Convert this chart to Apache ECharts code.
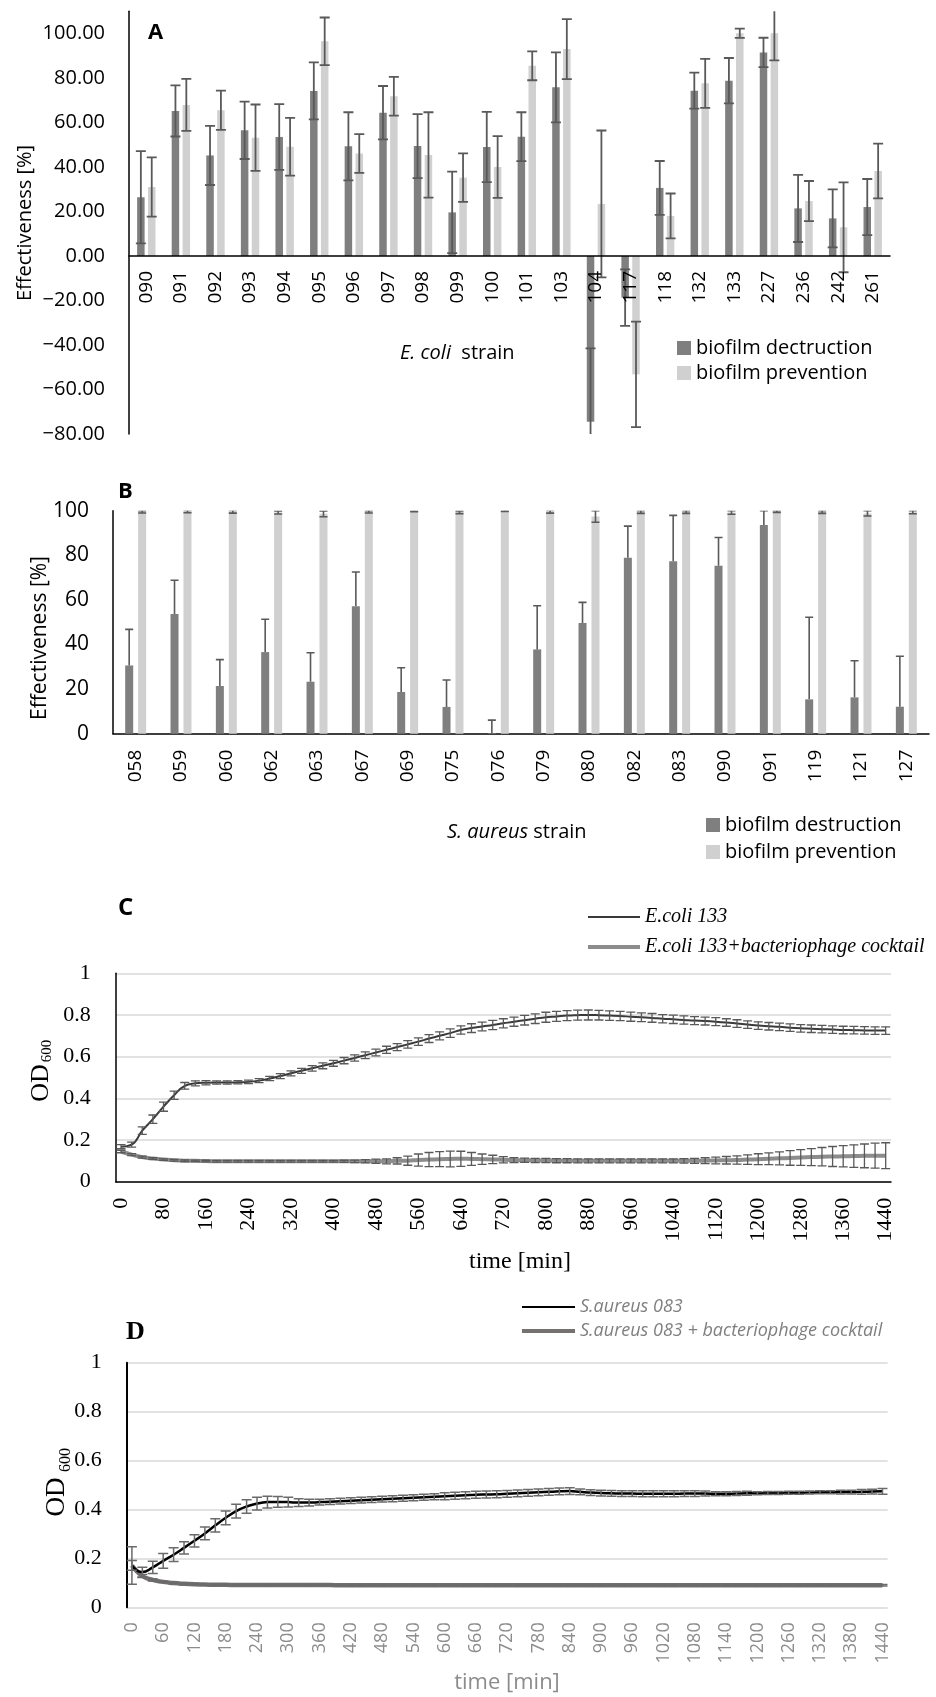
<!DOCTYPE html>
<html><head><meta charset="utf-8">
<script src="https://cdn.jsdelivr.net/npm/echarts@6/dist/echarts.min.js"></script>
<style>html,body{margin:0;padding:0;background:#fff}#c{width:936px;height:1697px}</style>
</head><body><div id="c"></div>
<script>
// ---------- Panel A (E. coli) ----------
const catA = ['090','091','092','093','094','095','096','097','098','099','100','101','103','104','117','118','132','133','227','236','242','261'];
const destrA = [26.4,65.2,45.2,56.5,53.5,74.2,49.3,64.4,49.4,19.6,49.0,53.6,75.8,-74.5,-18.7,30.6,74.3,78.8,91.5,21.4,16.9,22.0];
const destrErrA = [20.7,11.5,13.3,12.9,14.8,12.8,15.3,12.0,14.4,18.3,15.8,11.0,15.7,33.0,12.7,12.1,8.1,10.2,6.6,15.1,13.0,12.6];
const prevA = [31.0,67.9,65.5,53.2,49.1,96.5,46.1,71.8,45.4,35.2,40.0,85.5,93.0,23.4,-53.2,18.0,77.6,100.1,100.1,24.7,12.9,38.2];
const prevErrA = [13.3,11.7,8.8,14.9,13.0,10.7,8.7,8.7,19.2,10.9,13.9,6.5,13.5,33.0,23.7,10.1,11.0,2.1,12.2,9.0,20.2,12.3];

// ---------- Panel B (S. aureus) ----------
const catB = ['058','059','060','062','063','067','069','075','076','079','080','082','083','090','091','119','121','127'];
const destrB = [30.6,53.7,21.4,36.6,23.3,57.1,18.7,12.0,0.3,37.8,49.6,78.9,77.3,75.3,93.6,15.4,16.3,12.1];
const destrErrB = [16.2,15.1,11.8,14.7,13.0,15.4,10.9,12.1,5.8,19.6,9.3,14.2,20.6,12.7,6.4,36.8,16.4,22.6];
const prevB = [99.5,99.6,99.5,99.2,98.6,99.5,99.8,99.3,99.9,99.5,97.4,99.4,99.4,99.2,99.6,99.4,98.8,99.3];
const prevErrB = [0.5,0.5,0.6,0.7,1.3,0.5,0.3,0.6,0.2,0.6,2.6,0.6,0.6,0.8,0.4,0.6,1.2,0.7];

// ---------- Panels C, D (growth curves, every 20 min) ----------
const timeCats = ['0','20','40','60','80','100','120','140','160','180','200','220','240','260','280','300','320','340','360','380','400','420','440','460','480','500','520','540','560','580','600','620','640','660','680','700','720','740','760','780','800','820','840','860','880','900','920','940','960','980','1000','1020','1040','1060','1080','1100','1120','1140','1160','1180','1200','1220','1240','1260','1280','1300','1320','1340','1360','1380','1400','1420','1440'];

const ecoli = [0.168,0.178,0.245,0.300,0.360,0.415,0.460,0.472,0.475,0.476,
0.476,0.477,0.479,0.485,0.495,0.507,0.520,0.532,0.544,0.556,
0.568,0.581,0.594,0.607,0.620,0.633,0.646,0.659,0.672,0.687,
0.700,0.713,0.728,0.737,0.745,0.752,0.760,0.768,0.775,0.782,
0.789,0.793,0.797,0.799,0.800,0.799,0.797,0.795,0.792,0.789,
0.786,0.782,0.779,0.776,0.773,0.771,0.768,0.764,0.759,0.754,
0.749,0.746,0.743,0.739,0.736,0.734,0.732,0.730,0.728,0.727,
0.726,0.725,0.725];
const ecoliErr = [0.010,0.012,0.018,0.020,0.022,0.020,0.016,0.012,0.010,0.008,
0.008,0.008,0.008,0.010,0.010,0.012,0.012,0.012,0.013,0.014,
0.014,0.015,0.015,0.016,0.016,0.017,0.017,0.018,0.018,0.019,
0.019,0.020,0.020,0.021,0.021,0.022,0.022,0.022,0.023,0.023,
0.024,0.024,0.024,0.024,0.024,0.023,0.023,0.022,0.022,0.021,
0.021,0.020,0.020,0.020,0.019,0.019,0.019,0.018,0.018,0.018,
0.018,0.018,0.018,0.018,0.018,0.018,0.018,0.018,0.018,0.018,
0.018,0.018,0.018];
const ecoliPh = [0.145,0.130,0.118,0.111,0.106,0.103,0.101,0.100,0.099,0.098,
0.098,0.098,0.098,0.098,0.098,0.098,0.098,0.098,0.098,0.098,
0.098,0.098,0.098,0.098,0.098,0.098,0.100,0.101,0.104,0.106,
0.108,0.109,0.110,0.109,0.108,0.107,0.105,0.104,0.103,0.102,
0.102,0.101,0.101,0.100,0.100,0.100,0.100,0.100,0.100,0.100,
0.100,0.100,0.100,0.100,0.100,0.101,0.102,0.103,0.104,0.106,
0.108,0.110,0.112,0.114,0.116,0.118,0.120,0.121,0.122,0.123,
0.124,0.125,0.125];
const ecoliPhErr = [0.006,0.005,0.005,0.004,0.004,0.004,0.004,0.004,0.004,0.004,
0.004,0.004,0.004,0.004,0.004,0.004,0.004,0.004,0.004,0.004,
0.004,0.005,0.006,0.008,0.010,0.012,0.015,0.022,0.029,0.034,
0.036,0.038,0.036,0.031,0.025,0.020,0.015,0.012,0.010,0.010,
0.010,0.010,0.010,0.010,0.010,0.010,0.010,0.010,0.010,0.010,
0.010,0.010,0.010,0.011,0.012,0.014,0.016,0.018,0.020,0.023,
0.026,0.028,0.031,0.035,0.038,0.041,0.044,0.048,0.051,0.054,
0.057,0.060,0.062];

const saur = [0.171,0.144,0.163,0.190,0.215,0.243,0.272,0.302,0.335,0.366,
0.393,0.412,0.424,0.430,0.431,0.430,0.428,0.428,0.430,0.432,
0.434,0.436,0.438,0.440,0.442,0.444,0.446,0.448,0.450,0.452,
0.454,0.456,0.458,0.460,0.461,0.462,0.464,0.466,0.468,0.470,
0.472,0.474,0.475,0.472,0.469,0.467,0.466,0.465,0.465,0.464,
0.464,0.464,0.464,0.465,0.465,0.465,0.464,0.464,0.465,0.466,
0.466,0.467,0.467,0.468,0.468,0.469,0.470,0.470,0.471,0.471,
0.472,0.473,0.474];
const saurErr = [0.077,0.020,0.025,0.030,0.028,0.025,0.025,0.026,0.027,0.028,
0.028,0.028,0.026,0.024,0.022,0.020,0.016,0.014,0.012,0.012,
0.012,0.012,0.012,0.012,0.012,0.012,0.012,0.012,0.012,0.012,
0.014,0.014,0.014,0.014,0.014,0.014,0.014,0.014,0.014,0.014,
0.014,0.014,0.014,0.012,0.012,0.012,0.012,0.012,0.012,0.012,
0.012,0.012,0.012,0.012,0.012,0.010,0.008,0.008,0.008,0.008,
0.006,0.006,0.006,0.006,0.006,0.006,0.006,0.006,0.008,0.008,
0.010,0.010,0.012];
const saurPh = [0.171,0.128,0.112,0.104,0.099,0.096,0.094,0.093,0.092,0.092,
0.091,0.091,0.091,0.091,0.091,0.091,0.091,0.091,0.091,0.091,
0.090,0.090,0.090,0.090,0.090,0.090,0.090,0.090,0.090,0.090,
0.090,0.090,0.090,0.090,0.090,0.090,0.090,0.090,0.090,0.090,
0.090,0.090,0.090,0.090,0.090,0.090,0.090,0.090,0.090,0.090,
0.090,0.090,0.090,0.090,0.090,0.090,0.090,0.090,0.090,0.090,
0.090,0.090,0.090,0.090,0.090,0.090,0.090,0.090,0.090,0.090,
0.090,0.090,0.090];
const saurPhErr = [0.020,0.006,0.004,0.003,0.003,0.003,0.003,0.003,0.003,0.003,
0.003,0.003,0.003,0.003,0.003,0.003,0.003,0.003,0.003,0.003,
0.003,0.003,0.003,0.003,0.003,0.003,0.003,0.003,0.003,0.003,
0.003,0.003,0.003,0.003,0.003,0.003,0.003,0.003,0.003,0.003,
0.003,0.003,0.003,0.003,0.003,0.003,0.003,0.003,0.003,0.003,
0.003,0.003,0.003,0.003,0.003,0.003,0.003,0.003,0.003,0.003,
0.003,0.003,0.003,0.003,0.003,0.003,0.003,0.003,0.003,0.003,
0.003,0.003,0.003];

// ---------- styling ----------
const SANS = '"Open Sans", "Liberation Sans", sans-serif';
const SERIF = '"Liberation Serif", "DejaVu Serif", serif';
const DARK = '#7f7f7f', LIGHT = '#d0d0d0', ERR = '#595959';
const bwA = 7.5, gapA = 0.45;   // bar width px, gap ratio
const bwB = 8, gapB = 0.62;
function offsets(bw, g) { const tot = 2 * bw + bw * g; return [-tot / 2 + bw / 2, tot / 2 - bw / 2]; }
const offA = offsets(bwA, gapA), offB = offsets(bwB, gapB);

// grid A geometry: zero line position
const gA = { left: 129, top: 11.25, width: 761, height: 422.75 };
const minA = -80, maxA = 110;
const zeroOffsetA = -gA.height * (0 - minA) / (maxA - minA);

// thin-line legend icons (bbox padded to full item height)
const thinIcon = 'path://M0,0L0,0ZM0,6H52V8H0ZM0,14L0,14Z';
const thickIcon = 'path://M0,0L0,0ZM0,5H52V9H0ZM0,14L0,14Z';

function errSeries(ai, vals, errs, offset, half, color, width, upperOnly) {
  return {
    type: 'custom', xAxisIndex: ai, yAxisIndex: ai, clip: true, z: 6, silent: true,
    data: vals.map((v, i) => [i, v, errs[i]]),
    renderItem: function (params, api) {
      const i = api.value(0), v = api.value(1), e = api.value(2);
      const top = api.coord([i, v + e]);
      const bot = api.coord([i, upperOnly ? v : v - e]);
      const x = top[0] + offset;
      const st = { stroke: color, lineWidth: width, fill: null };
      const ch = [
        { type: 'line', shape: { x1: x, y1: top[1], x2: x, y2: bot[1] }, style: st },
        { type: 'line', shape: { x1: x - half, y1: top[1], x2: x + half, y2: top[1] }, style: st }
      ];
      if (!upperOnly) ch.push({ type: 'line', shape: { x1: x - half, y1: bot[1], x2: x + half, y2: bot[1] }, style: st });
      return { type: 'group', children: ch };
    }
  };
}

const fmtA = v => v > 100 ? '' : (v.toFixed(2)).replace('-', '\u2212');

const chart = echarts.init(document.getElementById('c'), null, { renderer: 'canvas' });
const option = {
  animation: false,
  backgroundColor: '#fff',
  grid: [
    Object.assign({ outerBoundsMode: 'none' }, gA),
    { left: 113, top: 510.7, width: 816, height: 223, outerBoundsMode: 'none' },
    { left: 115.7, top: 973.3, width: 775.3, height: 208.4, outerBoundsMode: 'none' },
    { left: 126.7, top: 1362.7, width: 761, height: 244.6, outerBoundsMode: 'none' }
  ],
  xAxis: [
    { gridIndex: 0, type: 'category', data: catA, z: 10, offset: zeroOffsetA,
      axisLine: { onZero: false, lineStyle: { color: '#000', width: 1.5 } }, axisTick: { show: false },
      axisLabel: { interval: 0, rotate: 90, margin: 15, fontSize: 19, fontFamily: SANS, color: '#000' } },
    { gridIndex: 1, type: 'category', data: catB,
      axisLine: { lineStyle: { color: '#000', width: 1.5 } }, axisTick: { show: false },
      axisLabel: { interval: 0, rotate: 90, margin: 16, fontSize: 19, fontFamily: SANS, color: '#000' } },
    { gridIndex: 2, type: 'category', data: timeCats, boundaryGap: true,
      axisLine: { lineStyle: { color: '#000', width: 1.5 } }, axisTick: { show: false },
      axisLabel: { interval: 3, rotate: 90, margin: 16, fontSize: 22, fontFamily: SERIF, color: '#000' } },
    { gridIndex: 3, type: 'category', data: timeCats, boundaryGap: true,
      axisLine: { show: false }, axisTick: { show: false },
      axisLabel: { interval: 2, rotate: 90, margin: 15, fontSize: 18, fontFamily: SANS, color: '#8c8c8c' } }
  ],
  yAxis: [
    { gridIndex: 0, type: 'value', min: minA, max: maxA, interval: 20, splitLine: { show: false },
      axisLine: { show: true, onZero: false, lineStyle: { color: '#000', width: 1.5 } }, axisTick: { show: false },
      axisLabel: { formatter: fmtA, margin: 24, fontSize: 20, fontFamily: SANS, color: '#000' } },
    { gridIndex: 1, type: 'value', min: 0, max: 100, interval: 20, splitLine: { show: false },
      axisLine: { show: true, onZero: false, lineStyle: { color: '#000', width: 1.5 } }, axisTick: { show: false },
      axisLabel: { margin: 24, fontSize: 21, fontFamily: SANS, color: '#000' } },
    { gridIndex: 2, type: 'value', min: 0, max: 1, interval: 0.2,
      splitLine: { show: true, lineStyle: { color: '#d9d9d9', width: 1.5 } },
      axisLine: { show: true, onZero: false, lineStyle: { color: '#000', width: 1.5 } }, axisTick: { show: false },
      axisLabel: { margin: 25, fontSize: 22, fontFamily: SERIF, color: '#000' } },
    { gridIndex: 3, type: 'value', min: 0, max: 1, interval: 0.2,
      splitLine: { show: true, lineStyle: { color: '#d9d9d9', width: 1.5 } },
      axisLine: { show: true, onZero: false, lineStyle: { color: '#000', width: 2 } }, axisTick: { show: false },
      axisLabel: { margin: 25, fontSize: 22, fontFamily: SERIF, color: '#000' } }
  ],
  legend: [
    { data: ['biofilm dectruction', 'biofilm prevention'], left: 677, top: 338, orient: 'vertical', padding: 0,
      icon: 'rect', itemWidth: 14, itemHeight: 14, itemGap: 5, selectedMode: false,
      textStyle: { fontSize: 20, fontFamily: SANS, color: '#000' } },
    { data: ['biofilm destruction', 'biofilm prevention'], left: 706, top: 815, orient: 'vertical', padding: 0,
      icon: 'rect', itemWidth: 14, itemHeight: 14, itemGap: 7, selectedMode: false,
      textStyle: { fontSize: 20, fontFamily: SANS, color: '#000' } },
    { data: [{ name: 'E.coli 133', icon: thinIcon }, { name: 'E.coli 133+bacteriophage cocktail', icon: thickIcon }],
      left: 588, top: 907, orient: 'vertical', padding: 0, symbolKeepAspect: false,
      itemWidth: 52, itemHeight: 14, itemGap: 10, selectedMode: false,
      textStyle: { fontSize: 20, fontStyle: 'italic', fontFamily: SERIF, color: '#000' } },
    { data: [{ name: 'S.aureus 083', icon: thinIcon }, { name: 'S.aureus 083 + bacteriophage cocktail', icon: thickIcon }],
      left: 522, top: 1298, orient: 'vertical', padding: 0, symbolKeepAspect: false,
      itemWidth: 53, itemHeight: 14, itemGap: 6, selectedMode: false,
      textStyle: { fontSize: 18, fontStyle: 'italic', fontFamily: SANS, color: '#7f7f7f' } }
  ],
  series: [
    { name: 'biofilm dectruction', type: 'bar', xAxisIndex: 0, yAxisIndex: 0, data: destrA,
      barWidth: bwA, barGap: (gapA * 100) + '%', itemStyle: { color: DARK } },
    { name: 'biofilm prevention', type: 'bar', xAxisIndex: 0, yAxisIndex: 0, data: prevA,
      barWidth: bwA, barGap: (gapA * 100) + '%', itemStyle: { color: LIGHT } },
    errSeries(0, destrA, destrErrA, offA[0], 5, ERR, 1.8, false),
    errSeries(0, prevA, prevErrA, offA[1], 5, ERR, 1.8, false),

    { name: 'biofilm destruction', type: 'bar', xAxisIndex: 1, yAxisIndex: 1, data: destrB,
      barWidth: bwB, barGap: (gapB * 100) + '%', itemStyle: { color: DARK } },
    { name: 'biofilm prevention', type: 'bar', xAxisIndex: 1, yAxisIndex: 1, data: prevB,
      barWidth: bwB, barGap: (gapB * 100) + '%', itemStyle: { color: LIGHT } },
    errSeries(1, destrB, destrErrB, offB[0], 4, ERR, 1.6, true),
    errSeries(1, prevB, prevErrB, offB[1], 4, ERR, 1.6, false),

    { name: 'E.coli 133', type: 'line', xAxisIndex: 2, yAxisIndex: 2, data: ecoli, smooth: true,
      symbol: 'none', lineStyle: { color: '#3a3a3a', width: 2 }, itemStyle: { color: '#3a3a3a' }, z: 3 },
    { name: 'E.coli 133+bacteriophage cocktail', type: 'line', xAxisIndex: 2, yAxisIndex: 2, data: ecoliPh, smooth: true,
      symbol: 'none', lineStyle: { color: '#8c8c8c', width: 4 }, itemStyle: { color: '#8c8c8c' }, z: 3 },
    errSeries(2, ecoli, ecoliErr, 0, 4.5, ERR, 1.3, false),
    errSeries(2, ecoliPh, ecoliPhErr, 0, 4.5, ERR, 1.3, false),

    { name: 'S.aureus 083', type: 'line', xAxisIndex: 3, yAxisIndex: 3, data: saur, smooth: true,
      symbol: 'none', lineStyle: { color: '#000', width: 2.5 }, itemStyle: { color: '#000' }, z: 4 },
    { name: 'S.aureus 083 + bacteriophage cocktail', type: 'line', xAxisIndex: 3, yAxisIndex: 3, data: saurPh, smooth: true,
      symbol: 'none', lineStyle: { color: '#767171', width: 4.5 }, itemStyle: { color: '#767171' }, z: 3 },
    errSeries(3, saur, saurErr, 0, 5, '#6a6a6a', 1.5, false),
    errSeries(3, saurPh, saurPhErr, 0, 5, '#6a6a6a', 1.5, false)
  ],
  graphic: [
    { type: 'text', x: 148, y: 33, style: { text: 'A', fontSize: 22, fontWeight: 'bold', fontFamily: SANS, fill: '#000', verticalAlign: 'middle' } },
    { type: 'text', x: 25, y: 223, rotation: Math.PI / 2,
      style: { text: 'Effectiveness [%]', fontSize: 20, fontFamily: SANS, fill: '#000', align: 'center', verticalAlign: 'middle' } },
    { type: 'text', x: 400, y: 353,
      style: { text: '{i|E. coli}  strain', fontSize: 20, fontFamily: SANS, fill: '#000', verticalAlign: 'middle',
        rich: { i: { fontStyle: 'italic', fontSize: 20, fontFamily: SANS, color: '#000' } } } },

    { type: 'text', x: 118, y: 492, style: { text: 'B', fontSize: 22, fontWeight: 'bold', fontFamily: SANS, fill: '#000', verticalAlign: 'middle' } },
    { type: 'text', x: 40, y: 638, rotation: Math.PI / 2,
      style: { text: 'Effectiveness [%]', fontSize: 21, fontFamily: SANS, fill: '#000', align: 'center', verticalAlign: 'middle' } },
    { type: 'text', x: 447, y: 832,
      style: { text: '{i|S. aureus} strain', fontSize: 20, fontFamily: SANS, fill: '#000', verticalAlign: 'middle',
        rich: { i: { fontStyle: 'italic', fontSize: 20, fontFamily: SANS, color: '#000' } } } },

    { type: 'text', x: 118, y: 908, style: { text: 'C', fontSize: 24, fontWeight: 'bold', fontFamily: SANS, fill: '#000', verticalAlign: 'middle' } },
    { type: 'text', x: 41, y: 1083, rotation: Math.PI / 2,
      style: { text: 'OD', fontSize: 26, fontFamily: SERIF, fill: '#000', align: 'center', verticalAlign: 'middle' } },
    { type: 'text', x: 47, y: 1051, rotation: Math.PI / 2,
      style: { text: '600', fontSize: 15, fontFamily: SERIF, fill: '#000', align: 'center', verticalAlign: 'middle' } },
    { type: 'text', x: 520, y: 1262,
      style: { text: 'time [min]', fontSize: 24, fontFamily: SERIF, fill: '#000', align: 'center', verticalAlign: 'middle' } },

    { type: 'text', x: 126, y: 1332, style: { text: 'D', fontSize: 26, fontWeight: 'bold', fontFamily: SERIF, fill: '#000', verticalAlign: 'middle' } },
    { type: 'text', x: 57, y: 1497, rotation: Math.PI / 2,
      style: { text: 'OD', fontSize: 27, fontFamily: SERIF, fill: '#000', align: 'center', verticalAlign: 'middle' } },
    { type: 'text', x: 66, y: 1460, rotation: Math.PI / 2,
      style: { text: '600', fontSize: 16, fontFamily: SERIF, fill: '#000', align: 'center', verticalAlign: 'middle' } },
    { type: 'text', x: 507, y: 1683,
      style: { text: 'time [min]', fontSize: 22, fontFamily: SANS, fill: '#8c8c8c', align: 'center', verticalAlign: 'middle' } }
  ]
};
chart.setOption(option);
</script>
</body></html>
